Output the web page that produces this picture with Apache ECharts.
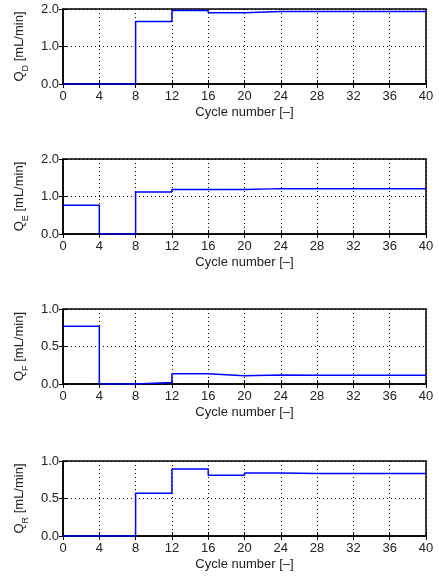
<!DOCTYPE html>
<html>
<head>
<meta charset="utf-8">
<script src="https://cdn.jsdelivr.net/npm/echarts@6/dist/echarts.min.js"></script>
<style>
  html, body { margin: 0; padding: 0; background: #fff; }
  #chart { width: 439px; height: 577px; }
</style>
</head>
<body>
<div id="chart"></div>
<script>
// cycle boundaries (each value holds for 4 cycles)
const cycles = [0, 4, 8, 12, 16, 20, 24, 28, 32, 36, 40]

// flow rates per 4-cycle block [mL/min]
const qD = [0, 0, 1.67, 1.96, 1.90, 1.935, 1.935, 1.935, 1.935, 1.935]
const qE = [0.77, 0, 1.12, 1.19, 1.185, 1.21, 1.21, 1.21, 1.21, 1.21]
const qF = [0.77, 0, 0.02, 0.136, 0.11, 0.12, 0.118, 0.118, 0.118, 0.118]
const qR = [0, 0, 0.57, 0.895, 0.81, 0.84, 0.832, 0.832, 0.832, 0.832]

const panels = [
  { sub: 'D', data: qD, max: 2, interval: 1 },
  { sub: 'E', data: qE, max: 2, interval: 1 },
  { sub: 'F', data: qF, max: 1, interval: 0.5 },
  { sub: 'R', data: qR, max: 1, interval: 0.5 }
]
const tops = [9, 159, 309, 461]
const font = 'Liberation Sans, Arial, Helvetica, sans-serif'
const txt = '#222'

// step pairs: last value repeated at the end boundary
const toSteps = (vals) => cycles.map((c, i) => [c, vals[Math.min(i, vals.length - 1)]])

const chart = echarts.init(document.getElementById('chart'))

const tick = { show: true, inside: true, length: 4, lineStyle: { color: '#000' } }
const dotted = { show: true, lineStyle: { color: '#000', type: [1, 3], width: 1 } }

const xAxes = []
const yAxes = []
panels.forEach((p, i) => {
  xAxes.push({
    type: 'value', gridIndex: i, min: 0, max: 40, interval: 4,
    name: 'Cycle number [–]', nameLocation: 'middle', nameGap: 22,
    nameTextStyle: { color: txt, fontSize: 13, fontFamily: font },
    axisLine: { show: true, lineStyle: { color: '#000', width: 1.5 } },
    axisTick: tick,
    axisLabel: { color: txt, fontSize: 13, fontFamily: font, margin: 6 },
    splitLine: dotted
  })
  // mirror axis on top, ticks only
  xAxes.push({
    type: 'value', gridIndex: i, min: 0, max: 40, interval: 4, position: 'top',
    axisLine: { show: false }, axisTick: tick, axisLabel: { show: false }, splitLine: { show: false }
  })
  yAxes.push({
    type: 'value', gridIndex: i, min: 0, max: p.max, interval: p.interval,
    name: '{q|Q}{s|' + p.sub + '}{q| [mL/min]}',
    nameLocation: 'middle', nameGap: 31, nameRotate: 90,
    nameTextStyle: {
      rich: {
        q: { fontSize: 13, fontFamily: font, color: txt, lineHeight: 17, verticalAlign: 'top' },
        s: { fontSize: 9, fontFamily: font, color: txt, lineHeight: 9, verticalAlign: 'bottom' }
      }
    },
    axisLine: { show: true, lineStyle: { color: '#000', width: 1.5 } },
    axisTick: tick,
    axisLabel: {
      color: txt, fontSize: 13, fontFamily: font, margin: 4,
      formatter: (v) => v.toFixed(1)
    },
    splitLine: dotted
  })
  // mirror axis on the right, ticks only
  yAxes.push({
    type: 'value', gridIndex: i, min: 0, max: p.max, interval: p.interval, position: 'right',
    axisLine: { show: false }, axisTick: tick, axisLabel: { show: false }, splitLine: { show: false }
  })
})

const option = {
  animation: false,
  grid: panels.map((p, i) => ({
    left: 63, right: 13, top: tops[i], height: 75,
    show: true, borderColor: '#000', borderWidth: 1.5, backgroundColor: 'transparent'
  })),
  xAxis: xAxes,
  yAxis: yAxes,
  series: panels.map((p, i) => ({
    type: 'line', xAxisIndex: i * 2, yAxisIndex: i * 2,
    step: 'end', showSymbol: false,
    data: toSteps(p.data),
    lineStyle: { color: '#0000ff', width: 1.5 }
  }))
}

chart.setOption(option)
</script>
</body>
</html>
